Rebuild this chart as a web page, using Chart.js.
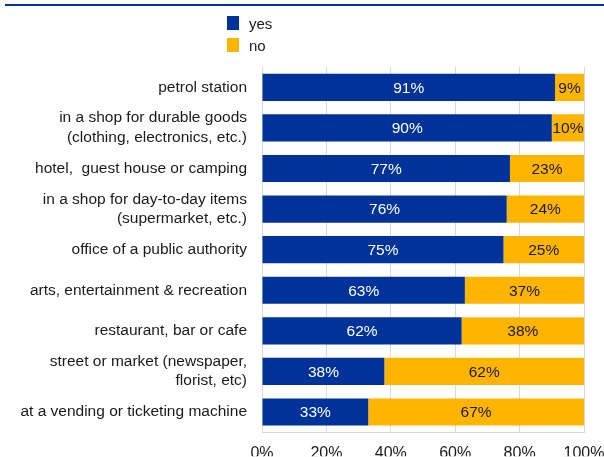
<!DOCTYPE html>
<html>
<head>
<meta charset="utf-8">
<script src="https://cdn.jsdelivr.net/npm/chart.js@4"></script>
<style>
  html, body { margin: 0; padding: 0; background: #fff; }
  #wrap { position: relative; width: 604px; height: 457px; overflow: hidden; }
  #topline { position: absolute; left: 5px; top: 4px; width: 599px; height: 2px; background: #003399; }
  #legend { position: absolute; left: 227px; top: 12px; font: 15px "Liberation Sans", Arial, sans-serif; color: #1a1a1a; }
  .item { height: 22px; display: flex; align-items: center; }
  .box { width: 12px; height: 14px; margin-right: 10px; }
</style>
</head>
<body>
<div id="wrap">
  <div id="topline"></div>
  <div id="legend"></div>
  <canvas id="chart" width="604" height="457"></canvas>
</div>
<script>
/* ================= DATA ================= */

const categories = [
  "petrol station",
  ["in a shop for durable goods", "(clothing, electronics, etc.)"],
  "hotel,  guest house or camping",
  ["in a shop for day-to-day items", "(supermarket, etc.)"],
  "office of a public authority",
  "arts, entertainment & recreation",
  "restaurant, bar or cafe",
  ["street or market (newspaper,", "florist, etc)"],
  "at a vending or ticketing machine"
];

const yesValues = [91, 90, 77, 76, 75, 63, 62, 38, 33];
const noValues  = [9, 10, 23, 24, 25, 37, 38, 62, 67];

const seriesNames = ["yes", "no"];
const seriesColors = ["#003399", "#FFB400"];
const labelColors = ["#ffffff", "#1a1a1a"];

const FONT = "'Liberation Sans', Arial, sans-serif";

/* ================= LEGEND ================= */

const legendEl = document.getElementById("legend");
seriesNames.forEach((name, i) => {
  const row = document.createElement("div");
  row.className = "item";
  row.innerHTML = `<span class="box" style="background:${seriesColors[i]}"></span><span>${name}</span>`;
  legendEl.appendChild(row);
});

/* ================= BAR LABELS ================= */

const barLabels = {
  id: "barLabels",
  afterDatasetsDraw(chart) {
    const ctx = chart.ctx;
    ctx.save();
    ctx.font = "15.5px " + FONT;
    ctx.textAlign = "center";
    ctx.textBaseline = "middle";
    chart.data.datasets.forEach((ds, di) => {
      const meta = chart.getDatasetMeta(di);
      meta.data.forEach((bar, i) => {
        const x = (bar.x + bar.base) / 2;
        ctx.fillStyle = labelColors[di];
        ctx.fillText(ds.data[i] + "%", x, bar.y + 1);
      });
    });
    ctx.restore();
  }
};

/* ================= CHART ================= */

new Chart(document.getElementById("chart"), {
  type: "bar",
  data: {
    labels: categories,
    datasets: [
      { label: seriesNames[0], data: yesValues, backgroundColor: seriesColors[0] },
      { label: seriesNames[1], data: noValues, backgroundColor: seriesColors[1] }
    ]
  },
  options: {
    indexAxis: "y",
    responsive: false,
    animation: false,
    layout: { padding: { top: 67, right: 0, left: 0, bottom: 0 } },
    datasets: { bar: { categoryPercentage: 1, barPercentage: 0.67 } },
    plugins: {
      legend: { display: false },
      tooltip: { enabled: false }
    },
    scales: {
      x: {
        stacked: true,
        min: 0,
        max: 100,
        ticks: {
          stepSize: 20,
          color: "#1a1a1a",
          font: { family: FONT, size: 16 },
          padding: 12,
          callback: v => v + "%"
        },
        grid: { color: "#d9d9d9", drawTicks: false },
        border: { color: "#d9d9d9" },
        afterFit: s => { s.height = 24; s.paddingRight = 20; }
      },
      y: {
        stacked: true,
        ticks: {
          color: "#1a1a1a",
          font: { family: FONT, size: 15.5, lineHeight: 1.25 },
          padding: 15
        },
        grid: { display: false, drawTicks: false },
        border: { color: "#d9d9d9" },
        afterFit: s => { s.width = 262; }
      }
    }
  },
  plugins: [barLabels]
});
</script>
</body>
</html>
